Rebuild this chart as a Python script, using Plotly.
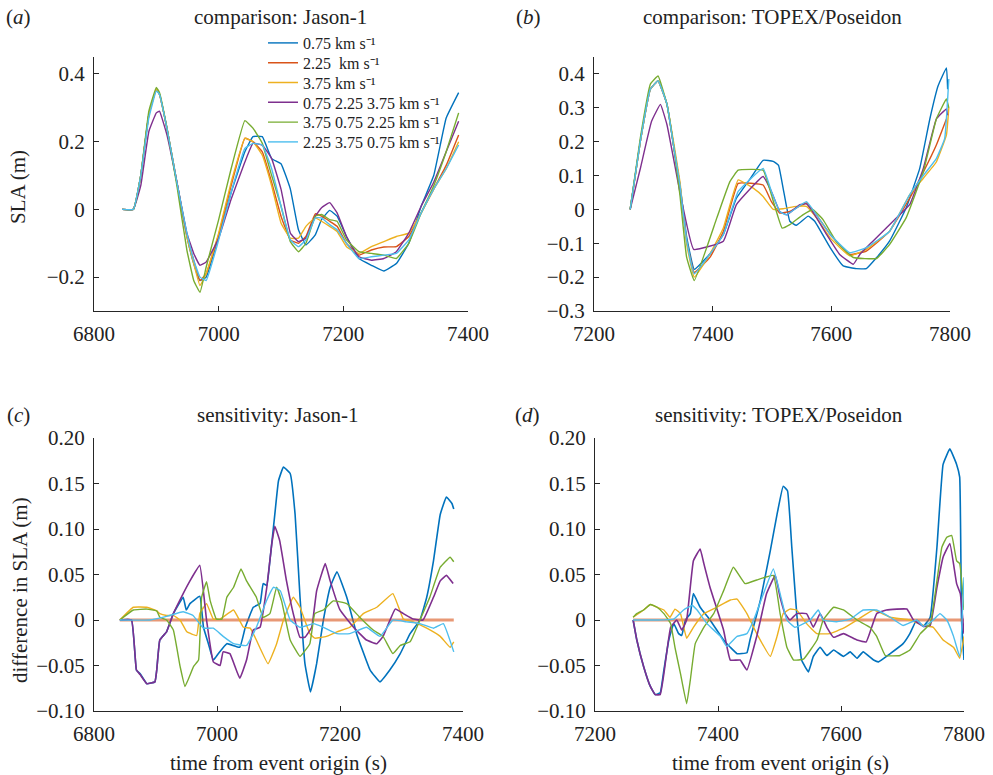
import plotly.graph_objects as go

FONT = "Liberation Serif, Times New Roman, serif"
TXT = "#222222"

LABELS = ["0.75 km s⁻¹", "2.25\u00a0 km s⁻¹", "3.75 km s⁻¹",
          "0.75 2.25 3.75 km s⁻¹", "3.75 0.75 2.25 km s⁻¹",
          "2.25 3.75 0.75 km s⁻¹"]
COLORS = ["#0072BD", "#D95319", "#EDB120", "#7E2F8E", "#77AC30", "#4DBEEE"]

# ---------------- (a) comparison: Jason-1 ----------------
A_T = [6845, 6863, 6875, 6888, 6900, 6905, 6917, 6933, 6949, 6960, 6970, 6980, 7000, 7020,
       7042, 7055, 7070, 7085, 7100, 7115, 7128, 7140, 7155, 7165, 7178, 7190, 7205, 7225,
       7245, 7265, 7285, 7305, 7325, 7345, 7365, 7385]
A_075 = [0, 0, 0.10, 0.28, 0.355, 0.34, 0.24, 0.08, -0.08, -0.16, -0.21, -0.20, -0.08, 0.05,
         0.17, 0.215, 0.215, 0.15, 0.135, 0.06, -0.06, -0.105, -0.075, -0.03, -0.003, -0.02,
         -0.08, -0.145, -0.165, -0.182, -0.16, -0.10, 0.01, 0.10, 0.27, 0.345]
A_225 = [0, 0, 0.10, 0.28, 0.355, 0.34, 0.24, 0.08, -0.075, -0.15, -0.21, -0.19, -0.075, 0.07,
         0.21, 0.20, 0.17, 0.08, -0.02, -0.09, -0.10, -0.08, -0.013, -0.02, -0.035, -0.05,
         -0.10, -0.135, -0.12, -0.111, -0.11, -0.08, -0.01, 0.06, 0.13, 0.22]
A_375 = [0, 0, 0.10, 0.28, 0.355, 0.34, 0.24, 0.08, -0.08, -0.16, -0.225, -0.19, -0.07, 0.08,
         0.21, 0.20, 0.16, 0.07, -0.04, -0.085, -0.085, -0.05, -0.025, -0.035, -0.05, -0.065,
         -0.11, -0.13, -0.11, -0.095, -0.08, -0.07, -0.01, 0.06, 0.12, 0.20]
A_MIX1 = [0, 0, 0.07, 0.23, 0.285, 0.29, 0.22, 0.08, -0.07, -0.13, -0.165, -0.155, -0.085, 0.03,
          0.14, 0.195, 0.19, 0.15, 0.06, -0.07, -0.095, -0.085, -0.02, 0.005, 0.02, -0.01,
          -0.08, -0.14, -0.15, -0.145, -0.125, -0.07, 0.01, 0.08, 0.17, 0.26]
A_MIX2 = [0, 0, 0.10, 0.29, 0.36, 0.345, 0.24, 0.07, -0.12, -0.21, -0.245, -0.17, -0.03, 0.12,
          0.262, 0.24, 0.195, 0.10, 0.01, -0.095, -0.125, -0.10, -0.02, -0.015, -0.03, -0.035,
          -0.09, -0.125, -0.13, -0.135, -0.145, -0.10, -0.01, 0.07, 0.17, 0.285]
A_MIX3 = [0, 0, 0.10, 0.27, 0.35, 0.34, 0.24, 0.08, -0.07, -0.15, -0.20, -0.21, -0.09, 0.05,
          0.18, 0.195, 0.19, 0.12, 0.01, -0.09, -0.11, -0.09, -0.025, -0.025, -0.045, -0.06,
          -0.10, -0.145, -0.14, -0.135, -0.13, -0.09, -0.01, 0.06, 0.12, 0.19]

# ---------------- (b) comparison: TOPEX/Poseidon ----------------
B_075_T = [7261, 7278, 7295, 7308, 7323, 7334, 7345, 7356, 7369, 7396, 7418, 7440, 7463, 7485,
           7502, 7511, 7519, 7530, 7541, 7561, 7572, 7598, 7620, 7642, 7659, 7676, 7698, 7726,
           7749, 7766, 7780, 7794, 7796]
B_075_V = [0, 0.2, 0.355, 0.38, 0.31, 0.19, 0.07, -0.08, -0.177, -0.13, -0.074, 0.033, 0.09,
           0.145, 0.142, 0.13, 0.06, -0.035, -0.047, -0.02, -0.035, -0.113, -0.167, -0.175,
           -0.175, -0.143, -0.094, 0.004, 0.121, 0.267, 0.365, 0.418, 0.355]
B_225_T = [7261, 7278, 7295, 7308, 7323, 7334, 7345, 7356, 7369, 7396, 7418, 7443, 7485, 7499,
           7513, 7530, 7558, 7575, 7598, 7631, 7659, 7698, 7732, 7755, 7777, 7794]
B_225_V = [0, 0.2, 0.355, 0.38, 0.31, 0.19, 0.07, -0.09, -0.186, -0.14, -0.065, 0.077, 0.072,
           0.023, -0.011, -0.006, 0.019, -0.016, -0.074, -0.133, -0.123, -0.065, 0.033, 0.11,
           0.19, 0.267]
B_375_T = [7261, 7278, 7295, 7308, 7323, 7334, 7345, 7356, 7369, 7396, 7418, 7443, 7469, 7485,
           7502, 7519, 7541, 7558, 7575, 7598, 7631, 7659, 7698, 7732, 7755, 7777, 7794, 7798]
B_375_V = [0, 0.2, 0.355, 0.38, 0.31, 0.2, 0.08, -0.1, -0.2, -0.13, -0.055, 0.087, 0.062, 0.038,
           0, 0.002, 0.009, 0.009, -0.025, -0.084, -0.137, -0.118, -0.065, 0.043, 0.092, 0.14,
           0.22, 0.30]
B_MIX1_T = [7261, 7278, 7297, 7312, 7323, 7345, 7368, 7418, 7440, 7485, 7499, 7513, 7525, 7547,
            7558, 7572, 7592, 7614, 7637, 7648, 7670, 7704, 7732, 7755, 7777, 7794, 7796]
B_MIX1_V = [0, 0.12, 0.26, 0.31, 0.25, 0.05, -0.118, -0.094, 0.014, 0.097, 0.053, -0.006,
            -0.016, 0.014, 0.016, -0.016, -0.074, -0.133, -0.162, -0.133, -0.094, -0.035, 0.014,
            0.121, 0.267, 0.297, 0.278]
B_MIX2_T = [7261, 7278, 7295, 7308, 7323, 7334, 7345, 7356, 7369, 7407, 7429, 7443, 7485, 7499,
            7517, 7530, 7552, 7569, 7586, 7608, 7637, 7676, 7698, 7726, 7755, 7777, 7794, 7798]
B_MIX2_V = [0, 0.21, 0.37, 0.394, 0.31, 0.19, 0.04, -0.14, -0.21, -0.025, 0.082, 0.116, 0.116,
            0.043, -0.055, -0.045, -0.016, -0.001, -0.03, -0.094, -0.142, -0.145, -0.104,
            -0.025, 0.111, 0.267, 0.326, 0.30]
B_MIX3_T = [7261, 7278, 7295, 7308, 7323, 7334, 7345, 7356, 7369, 7418, 7443, 7485, 7499, 7513,
            7524, 7558, 7575, 7598, 7631, 7659, 7698, 7732, 7755, 7777, 7791, 7798]
B_MIX3_V = [0, 0.2, 0.355, 0.38, 0.31, 0.19, 0.07, -0.09, -0.19, -0.074, 0.053, 0.121, 0.053,
            -0.006, -0.016, 0.023, -0.016, -0.074, -0.128, -0.113, -0.065, 0.043, 0.10, 0.15,
            0.209, 0.385]

# ---------------- (c) sensitivity: Jason-1 ----------------
C_075_T = [6842, 6861, 6869, 6875, 6886, 6899, 6902, 6907, 6918, 6929, 6945, 6950, 6956, 6972,
           6978, 6986, 6994, 7002, 7016, 7037, 7046, 7059, 7070, 7075, 7081, 7086, 7094, 7100,
           7108, 7119, 7127, 7135, 7143, 7152, 7162, 7173, 7184, 7195, 7211, 7227, 7249, 7265,
           7281, 7298, 7314, 7330, 7341, 7352, 7363, 7373, 7382, 7385]
C_075_V = [0, 0, -0.055, -0.059, -0.070, -0.068, -0.055, -0.022, -0.013, 0.007, 0.025, 0.011,
           0.018, 0.026, -0.008, -0.026, -0.044, -0.037, -0.026, -0.030, -0.008, 0.014, 0.018,
           0.040, 0.038, 0.065, 0.116, 0.153, 0.168, 0.161, 0.116, 0.025, -0.048, -0.079,
           -0.048, 0, 0.036, 0.053, 0.025, -0.015, -0.055, -0.068, -0.055, -0.037, -0.015, 0,
           0.025, 0.065, 0.116, 0.135, 0.128, 0.122]
C_225_T = [6842, 7385]
C_225_V = [0, 0]
C_375_T = [6842, 6864, 6886, 6902, 6907, 6918, 6929, 6940, 6951, 6967, 6972, 6983, 6994, 7005,
           7027, 7043, 7054, 7064, 7083, 7097, 7108, 7124, 7135, 7151, 7159, 7178, 7195, 7216,
           7238, 7260, 7286, 7303, 7319, 7341, 7363, 7379, 7385]
C_375_V = [0, 0.014, 0.014, 0.010, 0.007, 0.005, 0.005, 0, -0.013, -0.017, 0.007, 0.018, 0.001,
           0.001, 0.011, -0.008, -0.009, -0.022, -0.048, -0.026, 0, 0.025, 0.014, -0.015,
           -0.020, -0.018, -0.013, -0.008, 0.007, 0.014, 0.029, 0.001, -0.002, -0.009, -0.018,
           -0.030, -0.024]
C_MIX1_T = [6842, 6861, 6869, 6875, 6886, 6899, 6902, 6907, 6918, 6929, 6945, 6956, 6972, 6983,
            6994, 7005, 7010, 7021, 7037, 7048, 7059, 7070, 7081, 7089, 7094, 7102, 7113, 7124,
            7135, 7143, 7154, 7162, 7176, 7184, 7200, 7222, 7243, 7260, 7270, 7290, 7303, 7319,
            7335, 7352, 7363, 7373, 7384]
C_MIX1_V = [0, 0, -0.055, -0.060, -0.070, -0.068, -0.055, -0.022, -0.013, 0.007, 0.029, 0.043,
            0.060, 0, -0.046, -0.050, -0.035, -0.037, -0.064, -0.044, -0.011, -0.008, 0.036,
            0.083, 0.103, 0.087, 0.043, 0.007, -0.019, -0.019, -0.008, 0.032, 0.062, 0.043,
            0.011, -0.008, -0.022, -0.026, -0.018, 0.012, 0.007, 0.001, 0, 0.025, 0.043, 0.049,
            0.040]
C_MIX2_T = [6842, 6864, 6886, 6902, 6907, 6918, 6929, 6940, 6948, 6962, 6970, 6975, 6983, 6989,
            6999, 7008, 7016, 7027, 7039, 7048, 7064, 7075, 7086, 7097, 7105, 7119, 7135, 7151,
            7159, 7173, 7189, 7211, 7232, 7254, 7270, 7286, 7298, 7314, 7330, 7346, 7363, 7379,
            7385]
C_MIX2_V = [0, 0.011, 0.012, 0.010, 0.003, 0, -0.011, -0.051, -0.073, -0.051, -0.044, 0.025,
            0.042, 0.021, 0.001, 0.001, 0.025, 0.036, 0.056, 0.043, 0.025, 0.003, 0.007, 0.036,
            0.021, -0.022, -0.040, -0.026, 0.007, 0.011, 0.021, 0.018, 0.003, -0.011, -0.018,
            -0.037, -0.028, -0.024, 0, 0.025, 0.058, 0.069, 0.064]
C_MIX3_T = [6842, 6891, 6918, 6945, 6961, 6978, 6994, 7010, 7027, 7048, 7064, 7081, 7092, 7103,
            7119, 7135, 7157, 7173, 7195, 7216, 7243, 7265, 7286, 7308, 7330, 7352, 7368, 7385]
C_MIX3_V = [0, 0, 0.004, 0.009, 0.005, -0.009, -0.009, -0.018, -0.026, -0.028, -0.008, 0.022,
            0.036, 0.032, 0, -0.008, -0.004, -0.008, -0.015, -0.015, -0.008, -0.018, 0, -0.002,
            -0.004, -0.009, -0.004, -0.035]

# ---------------- (d) sensitivity: TOPEX/Poseidon ----------------
D_075_T = [7262, 7268, 7279, 7290, 7298, 7306, 7312, 7320, 7328, 7336, 7341, 7347, 7355, 7360,
           7371, 7387, 7409, 7420, 7431, 7447, 7452, 7469, 7485, 7496, 7506, 7513, 7520, 7528,
           7536, 7547, 7555, 7566, 7577, 7588, 7604, 7615, 7626, 7636, 7653, 7661, 7680, 7701,
           7712, 7723, 7734, 7745, 7756, 7766, 7777, 7788, 7793, 7796, 7800]
D_075_V = [0, -0.022, -0.051, -0.073, -0.082, -0.080, -0.055, -0.022, -0.004, -0.015, -0.017, 0,
           0.007, 0.029, 0.014, 0, -0.022, -0.030, -0.037, -0.036, -0.022, 0.022, 0.076, 0.116,
           0.147, 0.142, 0.080, 0.007, -0.044, -0.057, -0.040, -0.030, -0.039, -0.033, -0.040,
           -0.035, -0.042, -0.035, -0.044, -0.046, -0.037, -0.026, -0.015, 0, -0.007, 0.003,
           0.080, 0.171, 0.188, 0.171, 0.157, 0, -0.044]
D_225_T = [7262, 7800]
D_225_V = [0, 0]
D_375_T = [7262, 7279, 7290, 7301, 7312, 7322, 7330, 7339, 7349, 7360, 7377, 7398, 7420, 7431,
           7447, 7463, 7485, 7496, 7506, 7517, 7528, 7544, 7561, 7582, 7604, 7626, 7653, 7680,
           7712, 7734, 7750, 7766, 7783, 7793, 7800]
D_375_V = [0.003, 0.011, 0.017, 0.014, 0.011, 0.003, 0.012, 0.007, -0.020, -0.008, 0.007, 0.014,
           0.022, 0.023, 0.007, -0.015, -0.040, -0.018, 0.007, 0.012, 0.011, -0.004, -0.015,
           -0.015, -0.009, 0, 0.011, 0.003, 0, -0.006, -0.008, -0.022, -0.030, -0.042, -0.018]
D_MIX1_T = [7262, 7268, 7279, 7290, 7298, 7306, 7312, 7323, 7333, 7341, 7349, 7360, 7371, 7377,
            7387, 7409, 7420, 7436, 7447, 7463, 7479, 7493, 7501, 7509, 7517, 7528, 7544, 7555,
            7566, 7577, 7588, 7604, 7626, 7641, 7658, 7674, 7707, 7718, 7734, 7745, 7756, 7766,
            7777, 7788, 7794, 7800]
D_MIX1_V = [0, -0.022, -0.051, -0.073, -0.082, -0.082, -0.059, -0.008, 0, -0.011, 0, 0.065,
            0.078, 0.062, 0.036, -0.011, -0.044, -0.044, -0.055, -0.018, 0.029, 0.049, 0.025,
            0.007, 0, 0.007, 0.007, -0.008, 0.007, -0.008, -0.019, -0.015, -0.022, -0.024, 0.007,
            0.011, 0.012, 0, -0.007, -0.006, 0.036, 0.069, 0.084, 0.040, 0.029, -0.015]
D_MIX2_T = [7262, 7268, 7279, 7290, 7301, 7312, 7323, 7330, 7339, 7349, 7355, 7363, 7377, 7393,
            7409, 7425, 7444, 7463, 7490, 7501, 7512, 7523, 7539, 7561, 7571, 7588, 7604, 7626,
            7647, 7658, 7672, 7696, 7712, 7729, 7745, 7756, 7764, 7772, 7780, 7788, 7793, 7800]
D_MIX2_V = [0.003, 0.007, 0.011, 0.017, 0.014, 0.007, -0.004, -0.030, -0.059, -0.092, -0.066,
            -0.026, -0.008, 0.007, 0.032, 0.058, 0.040, 0.044, 0.049, 0.007, -0.030, -0.044,
            -0.043, -0.022, 0, 0.014, 0.011, 0, -0.008, -0.018, -0.039, -0.039, -0.033, -0.015,
            -0.004, 0.043, 0.080, 0.091, 0.093, 0.065, 0.062, 0.011]
D_MIX3_T = [7262, 7301, 7328, 7344, 7358, 7366, 7382, 7404, 7414, 7431, 7447, 7458, 7474, 7490,
            7501, 7512, 7525, 7550, 7563, 7571, 7593, 7615, 7636, 7658, 7680, 7701, 7723, 7734,
            7750, 7761, 7772, 7783, 7793, 7800]
D_MIX3_V = [0, 0, 0.001, 0.011, 0.016, 0.011, -0.004, -0.018, -0.029, -0.018, -0.015, 0, 0.029,
            0.056, 0.029, 0, -0.008, 0, 0.011, 0, -0.002, 0.001, 0.011, 0.011, 0.003, -0.006, 0,
            -0.007, 0, 0.007, 0, -0.018, -0.040, 0.047]

# tick labels
A_YTICKS = [-0.2, 0, 0.2, 0.4]
A_YTEXT = ["−0.2", "0", "0.2", "0.4"]
B_YTICKS = [-0.3, -0.2, -0.1, 0, 0.1, 0.2, 0.3, 0.4]
B_YTEXT = ["−0.3", "−0.2", "−0.1", "0", "0.1", "0.2", "0.3", "0.4"]
CD_YTICKS = [-0.10, -0.05, 0, 0.05, 0.10, 0.15, 0.20]
CD_YTEXT = ["−0.10", "−0.05", "0", "0.05", "0.10", "0.15", "0.20"]
AC_XTICKS = [6800, 7000, 7200, 7400]
BD_XTICKS = [7200, 7400, 7600, 7800]

fig = go.Figure()

panels = [
    ("x", "y", [(A_T, A_075), (A_T, A_225), (A_T, A_375), (A_T, A_MIX1), (A_T, A_MIX2), (A_T, A_MIX3)], True),
    ("x2", "y2", [(B_075_T, B_075_V), (B_225_T, B_225_V), (B_375_T, B_375_V), (B_MIX1_T, B_MIX1_V),
                  (B_MIX2_T, B_MIX2_V), (B_MIX3_T, B_MIX3_V)], False),
    ("x3", "y3", [(C_075_T, C_075_V), (C_225_T, C_225_V), (C_375_T, C_375_V), (C_MIX1_T, C_MIX1_V),
                  (C_MIX2_T, C_MIX2_V), (C_MIX3_T, C_MIX3_V)], False),
    ("x4", "y4", [(D_075_T, D_075_V), (D_225_T, D_225_V), (D_375_T, D_375_V), (D_MIX1_T, D_MIX1_V),
                  (D_MIX2_T, D_MIX2_V), (D_MIX3_T, D_MIX3_V)], False),
]

LEGEND_IDS = ["legend", "legend2", "legend3", "legend4", "legend5", "legend6"]

for xa, ya, series, show in panels:
    for i, (t, v) in enumerate(series):
        color = COLORS[i]
        width = 1.4
        if i == 1 and xa in ("x3", "x4"):
            color = "rgba(217,83,25,0.6)"
            width = 3
        if xa in ("x3", "x4") and i in (0, 3):
            width = 1.6
        fig.add_trace(go.Scatter(x=t, y=v, mode="lines", name=LABELS[i], xaxis=xa, yaxis=ya,
                                 line=dict(color=color, width=width, shape="spline", smoothing=0.3),
                                 showlegend=show, legend=LEGEND_IDS[i], hoverinfo="skip"))

W, H = 993, 775

def px_x(a, b):
    return [a / W, b / W]

def px_y(top, bottom):
    return [1 - bottom / H, 1 - top / H]

axis_common = dict(showline=True, linecolor="#262626", linewidth=1, ticks="inside", ticklen=5,
                   tickcolor="#262626", showgrid=False, zeroline=False, mirror=False,
                   automargin=False, ticklabelstandoff=4,
                   tickfont=dict(family=FONT, size=21, color=TXT))

layout_legends = {}
for i, lid in enumerate(LEGEND_IDS):
    layout_legends[lid] = dict(x=263 / W, y=1 - (43 + 19.8 * i) / H, xanchor="left", yanchor="middle",
                               bgcolor="rgba(0,0,0,0)", borderwidth=0,
                               font=dict(family=FONT, size=16, color=TXT))

fig.update_layout(
    template="none",
    width=W, height=H, margin=dict(l=0, r=0, t=0, b=0, autoexpand=False),
    paper_bgcolor="white", plot_bgcolor="white",
    font=dict(family=FONT, size=21, color=TXT),
    xaxis=dict(domain=px_x(94, 468), range=[6800, 7400], tickvals=AC_XTICKS, anchor="y", **axis_common),
    yaxis=dict(domain=px_y(57, 311), range=[-0.3, 0.45], tickvals=A_YTICKS, ticktext=A_YTEXT, anchor="x", **axis_common),
    xaxis2=dict(domain=px_x(594, 950), range=[7200, 7800], tickvals=BD_XTICKS, anchor="y2", **axis_common),
    yaxis2=dict(domain=px_y(57, 311), range=[-0.3, 0.45], tickvals=B_YTICKS, ticktext=B_YTEXT, anchor="x2", **axis_common),
    xaxis3=dict(domain=px_x(94, 463), range=[6800, 7400], tickvals=AC_XTICKS, anchor="y3", **axis_common),
    yaxis3=dict(domain=px_y(438, 711), range=[-0.1, 0.2], tickvals=CD_YTICKS, ticktext=CD_YTEXT, anchor="x3", **axis_common),
    xaxis4=dict(domain=px_x(595, 964), range=[7200, 7800], tickvals=BD_XTICKS, anchor="y4", **axis_common),
    yaxis4=dict(domain=px_y(438, 711), range=[-0.1, 0.2], tickvals=CD_YTICKS, ticktext=CD_YTEXT, anchor="x4", **axis_common),
    **layout_legends,
)

def ann(text, x, y, size=21, angle=0):
    fig.add_annotation(text=text, x=x / W, y=1 - y / H, xref="paper", yref="paper",
                       showarrow=False, xanchor="center", yanchor="middle", textangle=angle,
                       font=dict(family=FONT, size=size, color=TXT))

ann("(<i>a</i>)", 18, 17)
ann("comparison: Jason-1", 280, 17)
ann("(<i>b</i>)", 528, 17)
ann("comparison: TOPEX/Poseidon", 772, 17)
ann("(<i>c</i>)", 18, 415)
ann("sensitivity: Jason-1", 278, 415)
ann("(<i>d</i>)", 527, 415)
ann("sensitivity: TOPEX/Poseidon", 779, 415)
ann("SLA (m)", 18, 187, angle=-90)
ann("difference in SLA (m)", 20, 590, angle=-90)
ann("time from event origin (s)", 278, 763)
ann("time from event origin (s)", 780, 763)

fig.write_html("out.html")
